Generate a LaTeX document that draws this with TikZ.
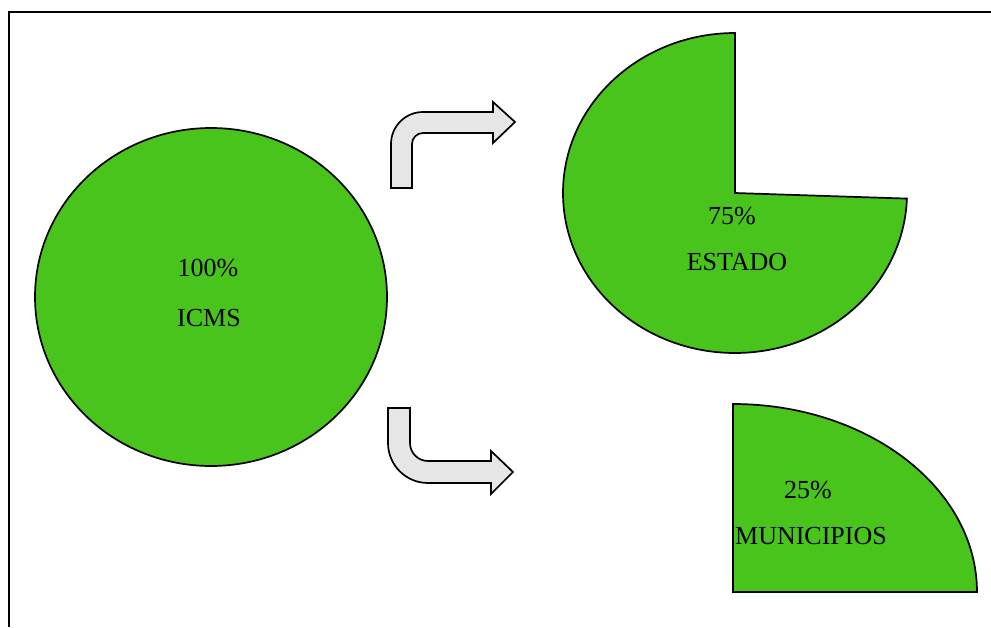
\documentclass[tikz,border=0pt]{standalone}
\usepackage{fontspec}
\setmainfont{Liberation Serif}
\usepackage{xcolor}
\definecolor{pieGreen}{RGB}{72,196,28}
\definecolor{arrowGray}{RGB}{230,230,230}
\tikzset{
    pie/.style={fill=pieGreen, draw=black, line width=0.85pt},
    turnarrow/.style={fill=arrowGray, draw=black, line width=0.85pt, line join=miter},
    pielabel/.style={anchor=base, inner sep=0pt, font=\fontsize{13}{15}\selectfont}
}

\begin{document}
\begin{tikzpicture}[x=0.5pt, y=-0.5pt]
    \useasboundingbox (0,0) rectangle (991,627);
    \draw [line width=1.4pt] (9,627) -- (9,12) -- (991,12);

    % pies
    \draw [pie] (211,297) ellipse [x radius=176, y radius=169];
    \draw [pie] (735,193) -- (735,33) arc [start angle=-90, end angle=-358, x radius=172, y radius=160] -- cycle;
    \draw [pie] (733,592) -- (733,404) arc [start angle=-90, end angle=0, x radius=244, y radius=188] -- cycle;

    % arrows
    \draw [turnarrow] (391,188) -- (391,144) arc [start angle=180, end angle=270, radius=32]
        -- (493,112) -- (493,102) -- (515,122) -- (493,143) -- (493,133) -- (423,133)
        arc [start angle=270, end angle=180, radius=11] -- (412,188) -- cycle;
    \draw [turnarrow] (388,408) -- (388,443) arc [start angle=180, end angle=90, radius=40]
        -- (491,483) -- (491,494) -- (513,472) -- (491,451) -- (491,461) -- (428,461)
        arc [start angle=90, end angle=180, radius=18] -- (410,408) -- cycle;

    \node [pielabel] (pct100) at (208,276) {100\%};
    \node [pielabel] (icms) at (209,326) {ICMS};
    \node [pielabel] (pct75) at (732,224) {75\%};
    \node [pielabel] (estado) at (737,270) {ESTADO};
    \node [pielabel] (pct25) at (808,498) {25\%};
    \node [pielabel] (municipios) at (811,544) {MUNICIPIOS};
\end{tikzpicture}
\end{document}
